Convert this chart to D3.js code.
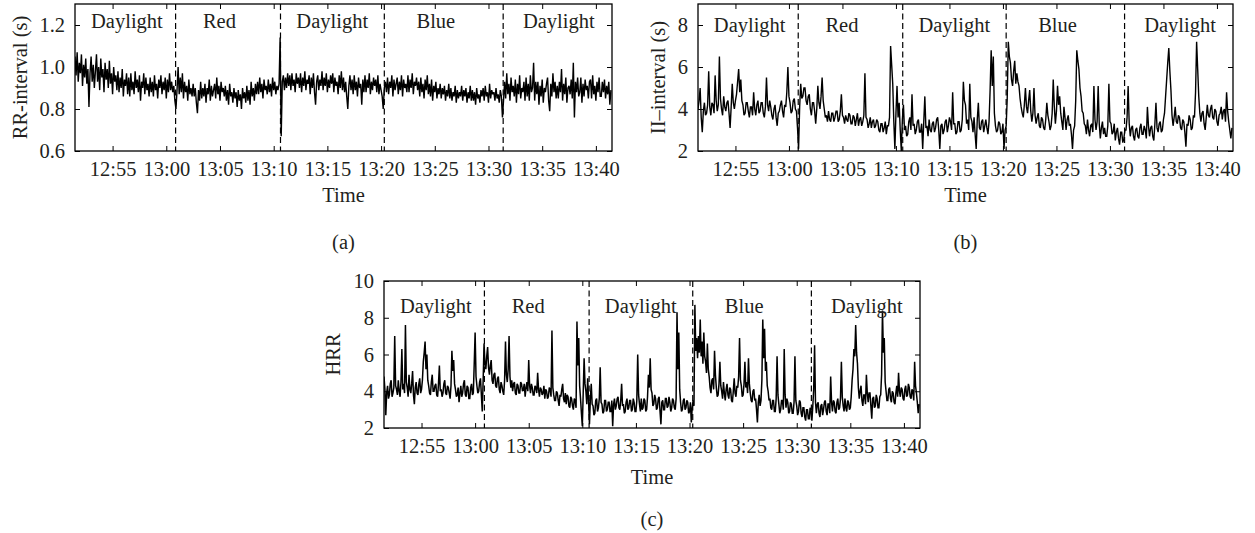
<!DOCTYPE html>
<html><head><meta charset="utf-8">
<script src="https://cdn.jsdelivr.net/npm/d3@7"></script>
<style>
body{margin:0;background:#fff;}
svg{display:block;font-family:"Liberation Serif","Times New Roman",serif;}
</style></head><body>
<svg id="chart" width="1255" height="533"></svg>
<script>
// ---------- data ----------
const tickLabels = ["12:55","13:00","13:05","13:10","13:15","13:20","13:25","13:30","13:35","13:40"];
const timeStart = "12:51:30";
const timeEnd = "13:41:30";
const phaseNames = ["Daylight","Red","Daylight","Blue","Daylight"];
const phaseLabelTimes = ["12:56:20","13:04:57","13:15:27","13:25:06","13:36:33"];
const phaseBoundaries = ["13:00:52","13:10:38","13:20:18","13:31:22"];

// RR-interval (s), one value every 6 s from 12:51:30
const rrStepSec = 6;
const rrInterval = [
1.05,0.96,1.07,0.93,1.02,0.97,1.06,0.91,1.01,0.95,
1.04,0.92,0.99,0.81,0.97,1.05,0.93,1.01,0.90,0.98,
1.06,0.93,1.00,0.89,1.04,0.95,0.99,0.88,1.02,0.94,
0.99,0.90,1.03,0.92,0.97,0.87,1.00,0.93,0.96,0.89,
0.98,0.88,0.95,0.90,0.99,0.86,0.94,0.91,0.97,0.87,
0.95,0.86,0.97,0.89,0.93,0.87,0.98,0.90,0.94,0.88,
0.96,0.84,0.93,0.90,0.97,0.87,0.95,0.89,0.92,0.86,
0.95,0.88,0.93,0.86,0.96,0.89,0.92,0.85,0.94,0.90,
0.96,0.87,0.93,0.89,0.95,0.85,0.94,0.88,0.97,0.89,
0.93,0.88,0.91,0.84,0.80,0.89,1.00,0.87,0.95,0.88,
0.97,0.85,0.93,0.88,0.91,0.84,0.94,0.87,0.90,0.86,
0.92,0.86,0.90,0.83,0.78,0.89,0.84,0.93,0.85,0.90,
0.86,0.92,0.83,0.90,0.87,0.94,0.84,0.91,0.86,0.89,
0.92,0.85,0.95,0.87,0.91,0.84,0.93,0.88,0.90,0.86,
0.91,0.84,0.89,0.82,0.92,0.86,0.88,0.83,0.90,0.85,
0.88,0.81,0.89,0.84,0.87,0.80,0.90,0.85,0.88,0.83,
0.91,0.84,0.89,0.82,0.93,0.86,0.90,0.84,0.92,0.87,
0.93,0.87,0.95,0.88,0.92,0.85,0.94,0.89,0.91,0.87,
0.94,0.88,0.92,0.86,0.95,0.89,0.93,0.87,0.91,0.89,
0.92,1.14,0.67,0.93,0.96,0.89,0.95,0.90,0.97,0.91,
0.96,0.89,0.97,0.91,0.94,0.88,0.97,0.92,0.95,0.90,
0.97,0.88,0.95,0.91,0.98,0.89,0.94,0.92,0.96,0.87,
0.95,0.90,0.97,0.88,0.82,0.93,0.96,0.89,0.94,0.91,
0.98,0.89,0.95,0.91,0.97,0.88,0.94,0.90,0.96,0.92,
0.97,0.88,0.95,0.91,0.93,0.87,0.96,0.90,0.98,0.89,
0.95,0.88,0.93,0.86,0.80,0.91,0.96,0.89,0.94,0.87,
0.96,0.89,0.93,0.86,0.95,0.90,0.92,0.82,0.94,0.88,
0.96,0.88,0.94,0.90,0.97,0.87,0.93,0.89,0.95,0.91,
0.94,0.88,0.96,0.87,0.92,0.89,0.86,0.80,0.90,0.93,
0.88,0.95,0.87,0.93,0.90,0.96,0.86,0.94,0.89,0.92,
0.95,0.87,0.93,0.89,0.96,0.86,0.94,0.90,0.92,0.88,
0.96,0.88,0.94,0.90,0.97,0.87,0.93,0.91,0.95,0.89,
0.93,0.86,0.95,0.88,0.92,0.85,0.94,0.89,0.96,0.87,
0.92,0.86,0.94,0.84,0.91,0.88,0.93,0.85,0.90,0.87,
0.92,0.85,0.90,0.87,0.91,0.84,0.89,0.86,0.92,0.85,
0.90,0.84,0.88,0.86,0.91,0.83,0.89,0.85,0.88,0.86,
0.91,0.84,0.89,0.86,0.90,0.83,0.88,0.85,0.91,0.84,
0.89,0.84,0.88,0.82,0.90,0.85,0.87,0.83,0.89,0.86,
0.90,0.84,0.91,0.86,0.88,0.83,0.92,0.85,0.89,0.87,
0.88,0.84,0.90,0.85,0.87,0.83,0.89,0.86,0.76,0.84,
0.93,0.85,0.97,0.87,0.92,0.84,0.95,0.88,0.91,0.86,
0.94,0.83,0.92,0.87,0.96,0.85,0.90,0.88,0.93,0.84,
0.95,0.86,0.92,0.84,0.96,0.88,0.90,1.02,0.84,0.93,
0.87,0.93,0.82,0.91,0.86,0.94,0.83,0.90,0.88,0.92,
0.95,0.84,0.79,0.92,0.86,0.97,0.88,0.93,0.85,0.91,
0.85,0.93,0.88,0.99,0.84,0.92,0.87,0.95,0.83,0.90,
0.91,0.87,0.94,0.85,1.02,0.76,0.93,0.88,0.95,0.86,
0.88,0.95,0.83,0.92,0.86,0.94,0.89,0.91,0.85,0.93,
0.94,0.85,0.96,0.87,0.91,0.84,0.93,0.88,0.95,0.86,
0.86,0.93,0.88,0.94,0.85,0.91,0.87,0.93,0.82,0.89
];

// II-interval (s), one value every 6 s from 12:51:30
const iiStepSec = 6;
const iiInterval = [
4.0,4.4,5.0,3.6,2.9,3.9,4.3,3.7,3.8,4.2,
5.8,4.1,3.7,4.3,4.2,3.8,5.6,4.4,3.9,4.2,
6.5,4.5,4.0,3.7,4.6,4.1,3.9,4.3,4.4,3.8,
3.1,4.1,5.2,4.3,4.0,4.4,4.7,5.3,5.9,4.8,
5.4,4.4,4.2,3.7,3.8,4.3,4.3,3.9,3.6,4.1,
4.1,3.7,4.8,4.0,3.7,4.2,4.4,3.8,3.9,4.3,
4.3,3.8,3.6,4.1,5.5,4.2,3.9,4.4,4.1,3.7,
3.5,4.0,4.2,3.6,3.2,3.8,3.9,4.2,4.4,3.9,
3.6,4.2,4.1,4.8,6.0,4.6,4.3,3.8,3.9,4.4,
4.5,4.0,3.9,3.1,2.1,4.1,5.2,4.5,4.6,5.0,
5.0,4.4,4.2,4.6,4.7,4.0,3.7,4.3,4.3,3.9,
3.3,4.0,5.1,4.3,4.0,4.6,5.5,4.4,4.0,3.6,
3.7,3.4,3.9,3.5,3.4,3.8,3.8,3.4,3.6,3.9,
3.9,3.4,3.5,3.9,4.7,3.7,3.6,3.3,3.7,3.5,
3.4,3.8,3.7,3.3,3.3,3.7,3.6,3.2,3.5,3.8,
3.2,3.5,3.6,3.2,3.4,3.7,5.7,3.6,3.5,3.1,
3.3,3.6,3.1,3.4,3.5,3.1,3.2,3.5,3.4,3.0,
2.9,3.3,3.3,2.9,3.1,3.4,2.8,3.2,3.2,3.6,
7.0,6.1,5.2,3.4,2.1,3.8,5.1,3.6,4.3,3.0,
2.0,3.5,4.2,3.0,3.2,2.7,2.8,3.4,3.6,3.0,
4.7,3.2,3.3,2.8,3.0,3.4,3.5,2.9,2.9,3.3,
2.1,3.4,4.6,3.1,3.2,2.7,3.5,3.0,2.9,3.3,
3.4,2.9,3.1,3.5,3.6,3.0,2.1,3.2,3.3,2.8,
3.0,3.4,3.5,2.9,3.2,3.6,3.4,3.0,4.8,3.3,
3.3,2.8,2.9,3.4,3.4,2.9,3.0,3.5,5.3,4.4,
4.2,3.3,3.5,3.0,5.2,3.6,3.4,2.9,3.6,2.8,
2.1,3.5,4.3,3.1,3.0,3.4,3.5,2.9,3.2,3.5,
3.1,2.8,3.4,4.9,6.8,5.1,6.5,3.8,3.2,2.9,
3.0,3.4,3.3,2.8,2.9,3.3,2.1,3.0,3.2,4.5,
7.2,6.5,6.2,5.4,5.1,5.8,6.3,5.2,5.7,5.3,
5.1,4.5,4.1,3.8,3.6,4.2,5.0,4.1,3.8,4.4,
4.9,3.9,3.4,3.8,5.0,3.7,3.3,3.6,3.8,3.2,
3.1,3.6,3.5,3.1,3.0,3.5,4.3,3.7,3.4,3.0,
3.2,3.8,5.4,4.1,3.3,3.9,5.1,4.2,4.6,3.8,
3.4,3.0,4.1,3.6,3.0,3.5,3.7,3.2,3.3,2.8,
2.1,3.0,3.2,4.4,6.8,6.3,5.9,5.0,4.6,3.9,
3.8,3.3,3.2,2.8,3.5,3.0,2.7,3.2,3.3,2.9,
5.1,3.5,3.0,3.4,5.1,3.3,2.6,3.1,3.4,2.8,
3.1,2.7,2.7,3.2,5.2,3.4,3.3,2.8,2.9,3.3,
2.5,2.9,3.1,2.6,2.3,2.9,2.9,2.4,2.6,3.0,
3.0,3.6,5.1,3.3,2.7,3.1,3.2,2.7,2.5,3.0,
3.1,2.7,2.6,3.1,3.3,2.8,2.8,3.2,3.0,2.6,
4.1,3.2,2.7,3.1,3.2,2.7,2.5,3.3,4.3,3.1,
2.9,3.3,3.4,2.9,3.0,3.5,3.8,4.6,5.4,6.2,
6.9,5.8,4.9,3.7,3.2,3.6,4.1,3.4,3.3,3.7,
3.6,3.1,3.0,3.5,3.4,2.9,2.2,3.3,3.2,3.7,
3.5,3.0,3.1,3.7,3.6,4.8,7.2,5.9,4.6,3.8,
3.4,3.8,3.9,3.3,3.0,3.6,4.2,3.7,3.6,4.0,
4.2,3.6,3.5,4.0,3.9,3.4,3.2,3.7,3.8,4.1,
3.5,3.9,4.0,3.4,4.8,3.9,3.4,3.0,2.6,3.1
];

// HRR, one value every 5 s from 12:51:30
const hrrStepSec = 5;
const hrr = [
4.8,4.1,2.7,3.9,4.3,3.6,3.8,4.4,4.6,3.7,3.9,4.2,
7.0,4.3,4.1,3.8,4.6,4.0,3.7,4.5,6.3,4.1,4.4,3.9,
7.6,4.5,4.2,3.7,4.9,4.1,3.9,4.4,5.1,3.8,3.3,4.2,
4.5,3.9,3.8,4.4,4.7,3.9,4.1,4.6,5.6,6.1,6.7,5.2,
6.0,4.6,4.3,3.9,3.8,4.5,4.9,4.0,4.0,4.3,4.4,3.8,
3.7,4.4,5.4,4.0,4.1,3.7,3.9,4.4,4.6,3.9,3.8,4.3,
4.2,3.9,3.6,4.3,6.2,5.1,5.7,4.4,4.1,3.7,3.8,4.2,
3.4,3.9,4.3,3.7,3.9,4.4,4.6,3.8,3.7,4.3,4.2,3.6,
3.6,4.2,4.4,3.8,3.9,5.5,7.2,4.8,4.3,3.9,4.0,4.5,
4.7,3.8,2.9,4.6,6.6,5.5,5.2,5.9,6.4,5.3,4.9,5.4,
5.7,4.6,4.4,4.9,5.0,4.3,4.2,4.7,4.8,4.1,3.9,4.5,
4.3,4.0,3.8,4.6,6.7,4.9,4.5,5.2,7.0,4.8,4.2,4.6,
4.0,4.4,4.5,3.9,3.8,4.4,4.3,3.9,3.9,4.5,4.4,4.0,
4.1,4.4,3.7,4.2,4.5,4.0,5.7,4.3,3.9,4.4,4.2,3.8,
3.8,4.3,4.2,3.9,5.0,4.1,3.7,4.2,4.1,3.8,3.9,4.3,
3.6,4.1,4.0,3.6,3.7,4.2,4.1,3.7,7.3,4.2,3.8,3.5,
3.5,4.0,3.9,3.5,3.2,3.8,3.7,4.1,4.4,3.6,3.4,3.9,
3.3,3.8,3.7,3.2,3.1,3.7,3.6,3.2,3.0,3.6,3.5,3.1,
7.8,5.4,6.9,4.3,3.6,2.8,2.1,3.9,5.8,4.4,4.0,3.3,
4.7,3.5,2.2,3.6,4.4,3.3,3.2,2.7,2.8,3.5,3.6,2.9,
3.1,3.6,5.3,3.4,3.3,2.8,2.9,3.5,3.5,2.9,3.0,3.4,
3.4,2.9,2.9,3.5,2.1,3.3,3.6,3.0,3.2,3.6,3.7,3.1,
3.0,3.5,4.4,3.2,3.3,2.8,2.9,3.4,3.6,3.0,3.1,3.5,
3.5,2.9,3.0,3.6,3.4,2.9,2.9,3.5,6.0,3.8,3.3,2.9,
3.6,3.0,3.1,3.6,3.5,2.9,3.0,3.7,4.9,4.2,5.8,4.1,
3.9,3.2,3.3,3.8,3.6,3.0,3.1,3.6,3.7,2.9,2.2,3.4,
3.5,3.0,3.0,3.6,3.6,3.1,3.2,3.7,3.4,2.9,3.1,3.6,
3.5,3.1,3.0,3.6,8.3,5.2,7.2,4.1,3.4,2.9,3.0,3.5,
3.6,3.0,3.1,3.5,3.4,2.8,2.9,3.4,2.3,3.1,3.5,3.2,
8.7,6.2,6.9,5.8,7.0,6.1,7.9,5.9,6.7,5.5,7.2,5.9,
5.6,5.0,6.6,5.2,4.8,4.2,3.9,4.6,4.7,4.1,6.2,4.9,
4.2,3.7,3.8,4.4,5.6,4.3,4.0,3.6,4.5,3.9,3.5,4.1,
4.4,3.8,3.6,4.2,4.1,3.5,3.4,4.0,4.7,3.9,3.7,4.3,
4.2,4.8,6.9,4.6,4.3,3.7,3.8,4.4,5.6,4.2,4.5,3.9,
5.8,4.4,3.9,3.5,3.4,4.0,4.1,3.5,3.6,3.0,2.3,3.4,
3.8,3.2,3.5,4.6,7.9,5.8,7.4,5.1,5.6,4.3,4.0,3.5,
3.6,3.1,3.0,3.5,3.5,2.9,2.9,3.6,5.9,3.8,3.3,2.8,
3.0,3.5,3.5,3.0,6.3,3.8,3.1,3.6,3.4,2.8,2.9,3.4,
3.3,2.8,2.8,3.4,5.9,3.5,3.2,2.7,2.9,3.5,3.4,2.8,
2.6,3.1,3.1,2.6,2.4,3.0,3.0,2.5,2.5,3.1,2.9,2.4,
3.2,4.1,6.5,3.4,2.8,3.3,3.4,2.8,2.6,3.2,3.3,2.7,
3.0,3.4,3.5,2.9,2.7,3.3,3.3,2.8,4.8,3.4,2.9,3.5,
3.4,2.9,2.8,3.4,3.6,3.0,3.1,3.6,5.6,3.7,3.2,2.9,
3.6,3.1,2.9,3.5,3.4,3.0,3.1,3.7,4.6,5.2,6.3,5.9,
7.6,6.1,5.5,4.2,3.6,4.0,4.3,3.5,3.2,3.8,3.8,3.3,
4.9,3.9,3.4,3.9,3.9,3.2,2.5,3.6,3.7,3.1,3.2,3.8,
3.6,3.1,3.1,3.7,3.8,4.9,8.4,6.1,6.9,4.5,4.0,3.5,
3.5,4.1,4.2,3.6,3.4,4.0,3.9,3.4,3.3,3.9,4.3,3.7,
5.0,4.0,3.7,4.2,4.1,3.6,3.5,4.1,4.3,3.7,3.8,4.4,
4.2,3.7,3.6,4.1,4.0,3.5,5.6,4.3,3.9,3.4,2.8,3.3
];

const rrTicks = [0.6,0.8,1.0,1.2];
const iiTicks = [2,4,6,8];
const hrrTicks = [2,4,6,8,10];

// ---------- drawing ----------
const svg = d3.select("#chart");
const parseHMS = d3.timeParse("%H:%M:%S");
const parseHM = d3.timeParse("%H:%M");
const FS = 20.5;
const INK = "#231f20";

function panel(o){
  const g = svg.append("g").attr("transform", `translate(${o.x},${o.y})`);
  const x = d3.scaleTime().domain([parseHMS(timeStart), parseHMS(timeEnd)]).range([0, o.w]);
  const y = d3.scaleLinear().domain(o.yDomain).range([o.h, 0]);
  const t0 = +parseHMS(timeStart);
  const pts = o.values.map((v, i) => ({t: new Date(t0 + i * o.step * 1000), v}));

  const cid = "clip-" + o.id;
  g.append("clipPath").attr("id", cid).append("rect").attr("width", o.w).attr("height", o.h);

  g.append("path").datum(pts)
    .attr("clip-path", `url(#${cid})`)
    .attr("fill", "none").attr("stroke", "#000").attr("stroke-width", o.lw)
    .attr("stroke-linejoin", "miter").attr("stroke-miterlimit", 2)
    .attr("d", d3.line().x(d => x(d.t)).y(d => y(d.v)));

  // phase boundaries
  g.selectAll(".bnd").data(phaseBoundaries).join("line")
    .attr("x1", d => x(parseHMS(d))).attr("x2", d => x(parseHMS(d)))
    .attr("y1", 0).attr("y2", o.h)
    .attr("stroke", "#000").attr("stroke-width", 1.2).attr("stroke-dasharray", "6,3.5");

  // phase labels
  g.selectAll(".plab").data(phaseNames).join("text")
    .attr("x", (d, i) => x(parseHMS(phaseLabelTimes[i])))
    .attr("y", o.labelOffset)
    .attr("text-anchor", "middle").attr("font-size", FS).attr("fill", INK)
    .text(d => d);

  const tv = tickLabels.map(s => parseHM(s));
  const style = sel => {
    sel.select(".domain").remove();
    sel.selectAll(".tick line").attr("stroke", "#000").attr("stroke-width", 1);
    sel.selectAll(".tick text").attr("font-size", FS).attr("fill", INK).attr("font-family", "Liberation Serif, serif");
  };
  g.append("g").attr("transform", `translate(0,${o.h})`)
    .call(d3.axisBottom(x).tickValues(tv).tickFormat((d, i) => tickLabels[i]).tickSize(-5).tickPadding(10)).call(style);
  g.append("g")
    .call(d3.axisTop(x).tickValues(tv).tickFormat(() => "").tickSize(-5)).call(style);
  g.append("g")
    .call(d3.axisLeft(y).tickValues(o.ticks).tickFormat(o.fmt).tickSize(-5).tickPadding(10)).call(style);
  g.append("g").attr("transform", `translate(${o.w},0)`)
    .call(d3.axisRight(y).tickValues(o.ticks).tickFormat(() => "").tickSize(-5)).call(style);

  g.append("rect").attr("width", o.w).attr("height", o.h)
    .attr("fill", "none").attr("stroke", "#000").attr("stroke-width", 1.3);

  g.append("text")
    .attr("transform", `translate(${o.titleX},${o.h / 2}) rotate(-90)`)
    .attr("dy", "0.33em").attr("text-anchor", "middle")
    .attr("font-size", FS).attr("fill", INK).text(o.title);

  g.append("text").attr("x", o.w / 2).attr("y", o.h + o.timeOffset)
    .attr("text-anchor", "middle").attr("font-size", FS).attr("fill", INK).text("Time");

  g.append("text").attr("x", o.w / 2).attr("y", o.h + 98)
    .attr("text-anchor", "middle").attr("font-size", FS).attr("fill", INK).text(o.tag);
}

panel({id: "a", x: 75, y: 4, w: 537, h: 147, yDomain: [0.6, 1.3], ticks: rrTicks, fmt: d3.format(".1f"), lw: 1.4,
  values: rrInterval, step: rrStepSec, labelOffset: 24, title: "RR-interval (s)", titleX: -55, timeOffset: 50.5, tag: "(a)"});
panel({id: "b", x: 698, y: 4, w: 535, h: 147, yDomain: [2, 9], ticks: iiTicks, fmt: d3.format("d"), lw: 1.4,
  values: iiInterval, step: iiStepSec, labelOffset: 28, title: "II\u2013interval (s)", titleX: -40, timeOffset: 50.5, tag: "(b)"});
panel({id: "c", x: 384, y: 281, w: 536, h: 147, yDomain: [2, 10], ticks: hrrTicks, fmt: d3.format("d"), lw: 1.5,
  values: hrr, step: hrrStepSec, labelOffset: 31.5, title: "HRR", titleX: -51, timeOffset: 55.5, tag: "(c)"});
</script>
</body></html>
